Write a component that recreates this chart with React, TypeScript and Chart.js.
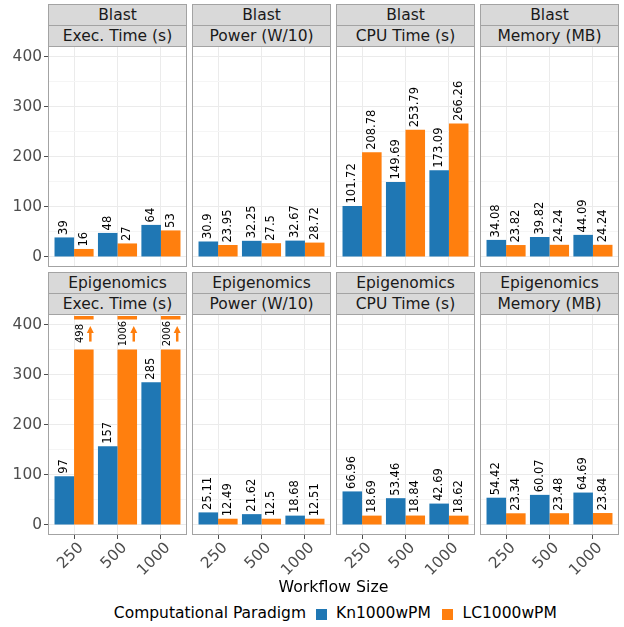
import React, { useEffect, useRef } from "react";
import { Chart, registerables } from "chart.js";
Chart.register(...registerables);

// ---------- data ----------
const sizes = ["250", "500", "1000"];
const workflows = ["Blast", "Epigenomics"];
const metrics = ["Exec. Time (s)", "Power (W/10)", "CPU Time (s)", "Memory (MB)"];
const seriesNames = ["Kn1000wPM", "LC1000wPM"];
const legendTitle = "Computational Paradigm";
const xTitle = "Workflow Size";

const blastExecKn = [39, 48, 64];
const blastExecLC = [16, 27, 53];
const blastPowerKn = [30.9, 32.25, 32.67];
const blastPowerLC = [23.95, 27.5, 28.72];
const blastCpuKn = [101.72, 149.69, 173.09];
const blastCpuLC = [208.78, 253.79, 266.26];
const blastMemKn = [34.08, 39.82, 44.09];
const blastMemLC = [23.82, 24.24, 24.24];

const epiExecKn = [97, 157, 285];
const epiExecLC = [498, 1006, 2006];
const epiPowerKn = [25.11, 21.62, 18.68];
const epiPowerLC = [12.49, 12.5, 12.51];
const epiCpuKn = [66.96, 53.46, 42.69];
const epiCpuLC = [18.69, 18.84, 18.62];
const epiMemKn = [54.42, 60.07, 64.69];
const epiMemLC = [23.34, 23.48, 23.84];

const yTicks = [0, 50, 100, 150, 200, 250, 300, 350, 400];
const Y_MIN = -20;
const Y_MAX = 421;
// axis-break settings for values that exceed the visible range
const Y_LIMIT = 400;
const BREAK_LOW = 350;
const CAP_RANGE = [410, 417];
const ARROW_RANGE = [366, 397];
const BREAK_LABEL_AT = 382;

// ---------- style / layout ----------
const BLUE = "#1F77B4";
const ORANGE = "#FF7F0E";
const FONT = "'DejaVu Sans', sans-serif";
const BORDER = "#A3A3A3";
const COLS = [48, 192, 336, 480];
const PANEL_W = 139;
const PANEL_H = 221;
const ROW_STRIP_TOP = [4, 272];
const STRIP_H = 21;
const Y_AXIS_W = 48;
const X_AXIS_H = 50;
const M = 12;

const panelData = [
  [blastExecKn, blastExecLC],
  [blastPowerKn, blastPowerLC],
  [blastCpuKn, blastCpuLC],
  [blastMemKn, blastMemLC],
  [epiExecKn, epiExecLC],
  [epiPowerKn, epiPowerLC],
  [epiCpuKn, epiCpuLC],
  [epiMemKn, epiMemLC],
];

function makeChart(canvas: HTMLCanvasElement, row: number, col: number, kn: number[], lc: number[]) {
  const firstCol = col === 0;
  const bottom = row === 1;

  const labelPlugin = {
    id: "barLabels",
    afterDatasetsDraw(chart: any) {
      const ctx = chart.ctx;
      const ys = chart.scales.y;
      ctx.save();
      ctx.fillStyle = "#000000";
      const drawUp = (text: string, x: number, y: number, size: number, align: string) => {
        ctx.save();
        ctx.translate(x, y);
        ctx.rotate(-Math.PI / 2);
        ctx.font = `${size}px ${FONT}`;
        ctx.fillStyle = "#000000";
        ctx.textAlign = align;
        ctx.textBaseline = "middle";
        ctx.fillText(text, 0, 0);
        ctx.restore();
      };
      const knMeta = chart.getDatasetMeta(0);
      knMeta.data.forEach((el: any, i: number) => {
        drawUp(String(kn[i]), el.x, el.y - 2.5, 11.5, "left");
      });
      const lcMeta = chart.getDatasetMeta(1);
      lcMeta.data.forEach((el: any, i: number) => {
        if (lc[i] > Y_LIMIT) {
          drawUp(String(lc[i]), el.x - 3.5, ys.getPixelForValue(BREAK_LABEL_AT), 10, "center");
          const ax = el.x + 6.5;
          const yTip = ys.getPixelForValue(ARROW_RANGE[1]);
          const yBase = ys.getPixelForValue(ARROW_RANGE[0]);
          ctx.strokeStyle = ORANGE;
          ctx.fillStyle = ORANGE;
          ctx.lineWidth = 2.5;
          ctx.beginPath();
          ctx.moveTo(ax, yBase);
          ctx.lineTo(ax, yTip + 5);
          ctx.stroke();
          ctx.beginPath();
          ctx.moveTo(ax, yTip);
          ctx.lineTo(ax - 3.5, yTip + 7);
          ctx.lineTo(ax + 3.5, yTip + 7);
          ctx.closePath();
          ctx.fill();
        } else {
          drawUp(String(lc[i]), el.x, el.y - 2.5, 11.5, "left");
        }
      });
      ctx.restore();
    },
  };

  const borderPlugin = {
    id: "panelBorder",
    afterDraw(chart: any) {
      const a = chart.chartArea;
      const ctx = chart.ctx;
      ctx.save();
      ctx.strokeStyle = BORDER;
      ctx.lineWidth = 1;
      ctx.strokeRect(a.left + 0.5, a.top + 0.5, a.right - a.left - 1, a.bottom - a.top - 1);
      ctx.restore();
    },
  };

  return new Chart(canvas, {
    type: "bar",
    data: {
      datasets: [
        {
          label: seriesNames[0],
          data: kn.map((v, i) => ({ x: i + 1, y: v })),
          backgroundColor: BLUE,
          stack: "kn",
        },
        {
          label: seriesNames[1],
          data: lc.map((v, i) => ({ x: i + 1, y: v > Y_LIMIT ? BREAK_LOW : v })),
          backgroundColor: ORANGE,
          stack: "lc",
        },
        {
          label: seriesNames[1] + " (cut)",
          data: lc.flatMap((v, i) => (v > Y_LIMIT ? [{ x: i + 1, y: CAP_RANGE }] : [])),
          backgroundColor: ORANGE,
          stack: "lc",
        },
      ] as any,
    },
    options: {
      responsive: false,
      animation: false,
      devicePixelRatio: 1,
      layout: { padding: { left: firstCol ? 0 : M, right: M, top: M, bottom: M } },
      plugins: { legend: { display: false }, tooltip: { enabled: false } },
      datasets: { bar: { categoryPercentage: 0.9, barPercentage: 1, borderWidth: 0 } } as any,
      scales: {
        x: {
          type: "linear",
          min: 0.4,
          max: 3.6,
          offset: false,
          afterBuildTicks: (s: any) => {
            s.ticks = sizes.map((_, i) => ({ value: i + 1 }));
          },
          afterFit: (s: any) => {
            s.height = bottom ? X_AXIS_H : 0;
          },
          ticks: {
            display: bottom,
            autoSkip: false,
            minRotation: 45,
            maxRotation: 45,
            padding: 0,
            labelOffset: 7,
            color: "#4D4D4D",
            font: { family: FONT, size: 15.4 },
            callback: (v: any) => sizes[Math.round(v) - 1] ?? "",
          },
          grid: {
            color: "#EBEBEB",
            lineWidth: 1,
            offset: false,
            drawTicks: bottom,
            tickLength: 4,
            tickColor: "#4D4D4D",
          },
          border: { display: false },
        } as any,
        y: {
          type: "linear",
          min: Y_MIN,
          max: Y_MAX,
          stacked: false,
          afterBuildTicks: (s: any) => {
            s.ticks = yTicks.map((v) => ({ value: v }));
          },
          afterFit: (s: any) => {
            s.width = firstCol ? Y_AXIS_W : 0;
          },
          ticks: {
            display: firstCol,
            padding: 2,
            color: "#4D4D4D",
            font: { family: FONT, size: 15.4 },
            callback: (v: any) => (v % 100 === 0 ? String(v) : ""),
          },
          grid: {
            color: (c: any) => (c.tick && c.tick.value % 100 === 0 ? "#EBEBEB" : "#F5F5F5"),
            lineWidth: 1,
            drawTicks: firstCol,
            tickLength: 4,
            tickColor: (c: any) => (c.tick && c.tick.value % 100 === 0 ? "#4D4D4D" : "rgba(0,0,0,0)"),
          },
          border: { display: false },
        } as any,
      },
    },
    plugins: [labelPlugin, borderPlugin],
  } as any);
}

function Panel({ index }: { index: number }) {
  const ref = useRef<HTMLCanvasElement>(null);
  const row = Math.floor(index / 4);
  const col = index % 4;
  const [kn, lc] = panelData[index];
  const padL = col === 0 ? Y_AXIS_W : M;
  const plotTop = ROW_STRIP_TOP[row] + 2 * STRIP_H;
  const w = padL + PANEL_W + M;
  const h = M + PANEL_H + (row === 1 ? X_AXIS_H : 0) + M;
  useEffect(() => {
    if (!ref.current) return;
    const chart = makeChart(ref.current, row, col, kn, lc);
    return () => chart.destroy();
  }, []);
  const stripStyle = (top: number): React.CSSProperties => ({
    position: "absolute",
    left: COLS[col],
    top,
    width: PANEL_W,
    height: STRIP_H + 1,
    boxSizing: "border-box",
    border: `1px solid ${BORDER}`,
    background: "#D9D9D9",
    color: "#1A1A1A",
    font: `15.5px ${FONT}`,
    lineHeight: `${STRIP_H - 1}px`,
    textAlign: "center",
    whiteSpace: "nowrap",
  });
  return (
    <>
      <div style={stripStyle(ROW_STRIP_TOP[row])}>{workflows[row]}</div>
      <div style={stripStyle(ROW_STRIP_TOP[row] + STRIP_H)}>{metrics[col]}</div>
      <canvas
        ref={ref}
        width={w}
        height={h}
        style={{ position: "absolute", left: COLS[col] - padL, top: plotTop - M, width: w, height: h }}
      />
    </>
  );
}

export default function App() {
  return (
    <div
      style={{
        position: "fixed",
        left: 0,
        top: 0,
        width: 624,
        height: 627,
        background: "#FFFFFF",
        overflow: "hidden",
        fontFamily: FONT,
      }}
    >
      {panelData.map((_, i) => (
        <Panel key={i} index={i} />
      ))}
      <div
        style={{
          position: "absolute",
          left: 0,
          width: 667,
          top: 576.5,
          lineHeight: "20px",
          textAlign: "center",
          font: `15.8px ${FONT}`,
          color: "#000",
        }}
      >
        {xTitle}
      </div>
      <div
        style={{
          position: "absolute",
          left: 0,
          width: 306,
          top: 603.5,
          lineHeight: "20px",
          textAlign: "right",
          font: `15.5px ${FONT}`,
          color: "#000",
          whiteSpace: "nowrap",
        }}
      >
        {legendTitle}
      </div>
      <div style={{ position: "absolute", left: 315.5, top: 609, width: 11, height: 11, background: BLUE }} />
      <div
        style={{ position: "absolute", left: 336, top: 603.5, lineHeight: "20px", font: `15.5px ${FONT}`, color: "#000", whiteSpace: "nowrap" }}
      >
        {seriesNames[0]}
      </div>
      <div style={{ position: "absolute", left: 441.5, top: 609, width: 11, height: 11, background: ORANGE }} />
      <div
        style={{ position: "absolute", left: 462.5, top: 603.5, lineHeight: "20px", font: `15.5px ${FONT}`, color: "#000", whiteSpace: "nowrap" }}
      >
        {seriesNames[1]}
      </div>
    </div>
  );
}
